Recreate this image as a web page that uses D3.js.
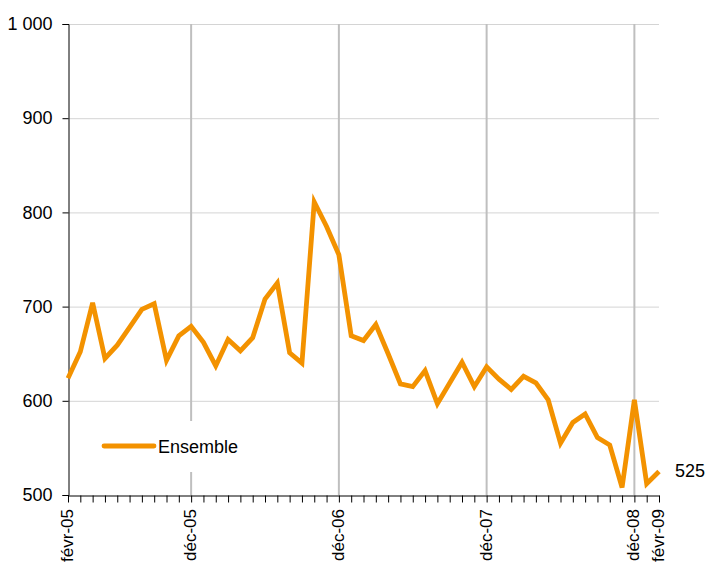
<!DOCTYPE html>
<html>
<head>
<meta charset="utf-8">
<title>Ensemble</title>
<style>
body { margin: 0; background: #fff; }
svg text { font-family: "Liberation Sans", Arial, sans-serif; fill: #000; }
</style>
<script src="https://cdnjs.cloudflare.com/ajax/libs/d3/7.8.5/d3.min.js"></script>
</head>
<body>
<svg id="chart" width="706" height="565"></svg>
<script>
// months from févr-05 to févr-09
var months = [
  "févr-05","mars-05","avr-05","mai-05","juin-05","juil-05","août-05","sept-05","oct-05","nov-05","déc-05",
  "janv-06","févr-06","mars-06","avr-06","mai-06","juin-06","juil-06","août-06","sept-06","oct-06","nov-06","déc-06",
  "janv-07","févr-07","mars-07","avr-07","mai-07","juin-07","juil-07","août-07","sept-07","oct-07","nov-07","déc-07",
  "janv-08","févr-08","mars-08","avr-08","mai-08","juin-08","juil-08","août-08","sept-08","oct-08","nov-08","déc-08",
  "janv-09","févr-09"
];
var ensemble = [
  624, 652, 704, 645, 659, 678, 697, 703, 643, 669, 679,
  662, 637, 665, 653, 667, 708, 725, 651, 640, 811, 785, 755,
  669, 664, 681, 650, 618, 615, 632, 597, 619, 641, 615, 636,
  623, 612, 626, 619, 601, 555, 577, 586, 561, 553, 508, 601,
  512, 525
];
var xLabels = ["févr-05", "déc-05", "déc-06", "déc-07", "déc-08", "févr-09"];
var yTicks = [500, 600, 700, 800, 900, 1000];
var vLines = ["déc-05", "déc-06", "déc-07", "déc-08"];

var svg = d3.select("#chart");
var x = d3.scalePoint().domain(months).range([68, 659]);
var y = d3.scaleLinear().domain([500, 1000]).range([495, 24]);
var fmt = function(v){ return d3.format(",")(v).replace(",", " "); };

// horizontal grid
svg.append("g").selectAll("line")
  .data(yTicks.slice(1))
  .enter().append("line")
  .attr("x1", 68).attr("x2", 659)
  .attr("y1", function(d){ return y(d) + 0.5; })
  .attr("y2", function(d){ return y(d) + 0.5; })
  .attr("stroke", "#d4d4d4").attr("stroke-width", 1);

// vertical year lines
svg.append("g").selectAll("line")
  .data(vLines)
  .enter().append("line")
  .attr("x1", function(d){ return x(d); })
  .attr("x2", function(d){ return x(d); })
  .attr("y1", 24).attr("y2", 495)
  .attr("stroke", "#bfbfbf").attr("stroke-width", 2);

// legend background
svg.append("rect")
  .attr("x", 96).attr("y", 421).attr("width", 150).attr("height", 51)
  .attr("fill", "#fff");

// y axis
var yAxis = d3.axisLeft(y).tickValues(yTicks).tickSize(6).tickPadding(10).tickFormat(fmt);
var gy = svg.append("g").attr("transform", "translate(68.5,0)").call(yAxis);
gy.select(".domain").attr("stroke", "#000");
gy.selectAll(".tick line").attr("stroke", "#000");
gy.selectAll("text").style("font-size", "18px")
  .style("font-family", "'Liberation Sans', Arial, sans-serif").attr("fill", "#000");

// x axis
var xAxis = d3.axisBottom(x).tickSize(7).tickSizeOuter(0).tickFormat("");
var gx = svg.append("g").attr("transform", "translate(0,495.5)").call(xAxis);
gx.select(".domain").attr("stroke", "#000");
gx.selectAll(".tick line").attr("stroke", "#000");

svg.append("g").selectAll("text")
  .data(xLabels)
  .enter().append("text")
  .attr("transform", function(d){ return "translate(" + (x(d) + 5) + ",509) rotate(-90)"; })
  .attr("text-anchor", "end")
  .style("font-size", "17px")
  .text(function(d){ return d; });

// line
var line = d3.line()
  .x(function(d, i){ return x(months[i]); })
  .y(function(d){ return y(d); });

svg.append("path")
  .datum(ensemble)
  .attr("d", line)
  .attr("fill", "none")
  .attr("stroke", "#f39200")
  .attr("stroke-width", 4.8)
  .attr("stroke-linejoin", "miter");

// last value label
svg.append("text")
  .attr("x", 675).attr("y", y(ensemble[ensemble.length - 1]) + 6)
  .style("font-size", "18px")
  .text(ensemble[ensemble.length - 1]);

// legend
svg.append("line")
  .attr("x1", 104).attr("x2", 154).attr("y1", 446).attr("y2", 446)
  .attr("stroke", "#f39200").attr("stroke-width", 4.8).attr("stroke-linecap", "round");
svg.append("text")
  .attr("x", 158).attr("y", 453)
  .style("font-size", "18px")
  .text("Ensemble");
</script>
</body>
</html>
